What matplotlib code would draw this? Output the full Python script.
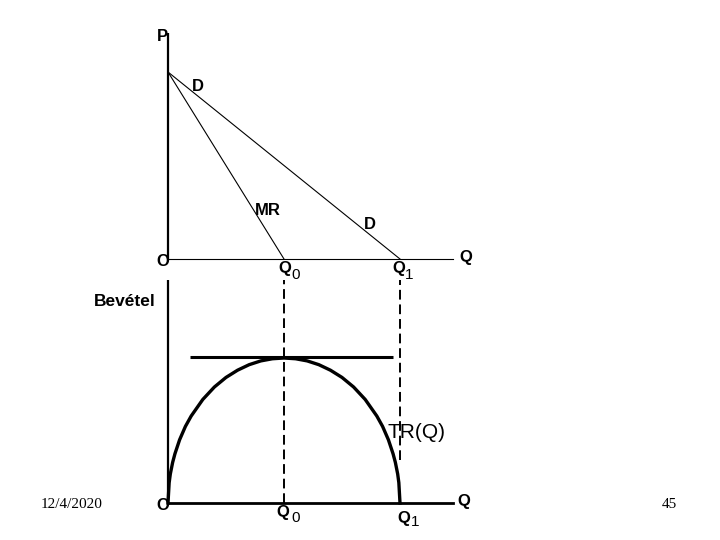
import matplotlib
matplotlib.use("Agg")
import matplotlib.pyplot as plt

# demand model: P = 10 - Q, MR = 10 - 2Q
p_max = 10.0
q0 = 5.0    # MR = 0
q1 = 10.0   # D = 0
demand_q = [0.0, q1]
demand_p = [p_max, 0.0]
mr_q = [0.0, q0]
mr_p = [p_max, 0.0]

# total revenue curve, as drawn on the slide
tr_q = [0.0, 0.05, 0.1, 0.2, 0.3, 0.5, 0.75, 1.0, 1.5, 2.0, 2.5, 3.0, 3.5, 4.0, 4.5,
        5.0, 5.5, 6.0, 6.5, 7.0, 7.5, 8.0, 8.5, 9.0, 9.25, 9.5, 9.7, 9.8, 9.9, 9.95, 10.0]
tr_v = [0.0, 3.5, 5.0, 7.0, 8.5, 10.9, 13.2, 15.0, 17.85, 20.0, 21.65, 22.9, 23.85, 24.5, 24.87,
        25.0, 24.87, 24.5, 23.85, 22.9, 21.65, 20.0, 17.85, 15.0, 13.2, 10.9, 8.5, 7.0, 5.0, 3.5, 0.0]
tr_max = 25.0
tangent_q = [0.95, 9.7]

W, H = 720, 540
fig = plt.figure(figsize=(7.2, 5.4), dpi=100)

# pixel scale: 23.2 px per Q unit, 18.7 px per P unit, 5.8 px per TR unit
xmax = 13.5
top = fig.add_axes([168 / W, (540 - 259) / H, xmax * 23.2 / W, 12.5 * 18.7 / H])
top.set_xlim(0, xmax)
top.set_ylim(0, 12.5)
top.axis("off")

bot = fig.add_axes([168 / W, (540 - 503) / H, xmax * 23.2 / W, 40 * 5.8 / H])
bot.set_xlim(0, xmax)
bot.set_ylim(0, 40)
bot.axis("off")

bold = dict(family="Liberation Sans", weight="bold", fontsize=12, color="black")
sub = dict(family="Liberation Sans", fontsize=11, color="black")

# ---- upper panel: D and MR
top.plot([0, 0], [0, 12.1], color="black", lw=1.6, solid_capstyle="butt", clip_on=False)
top.plot([0, 12.3], [0, 0], color="black", lw=0.8, clip_on=False)
top.plot(demand_q, demand_p, color="black", lw=0.8, clip_on=False)
top.plot(mr_q, mr_p, color="black", lw=0.8, clip_on=False)

top.text(-0.26, 11.9, "P", ha="center", va="center", **bold)
top.text(1.3, 9.2, "D", ha="center", va="center", **bold)
top.text(4.3, 2.6, "MR", ha="center", va="center", **bold)
top.text(8.7, 1.85, "D", ha="center", va="center", **bold)
top.text(-0.22, -0.15, "O", ha="center", va="center", **bold)
top.text(q0 + 0.05, -0.5, "Q", ha="center", va="center", **bold)
top.text(q0 + 0.5, -0.85, "0", ha="center", va="center", **sub)
top.text(q1 - 0.05, -0.5, "Q", ha="center", va="center", **bold)
top.text(q1 + 0.4, -0.85, "1", ha="center", va="center", **sub)
top.text(12.85, 0.1, "Q", ha="center", va="center", **bold)

# ---- lower panel: total revenue
bot.plot([0, 0], [0, 38.5], color="black", lw=1.6, solid_capstyle="butt", clip_on=False)
bot.plot([0, 12.3], [0, 0], color="black", lw=2.0, clip_on=False)
bot.plot(tr_q, tr_v, color="black", lw=2.4, clip_on=False)
bot.plot(tangent_q, [tr_max + 0.2, tr_max + 0.2], color="black", lw=2.2,
         solid_capstyle="butt", clip_on=False)
bot.plot([q0, q0], [0, 38.5], color="black", lw=1.4, dashes=(5, 2.5), clip_on=False)
bot.plot([q1, q1], [7.5, 38.5], color="black", lw=1.4, dashes=(5, 2.5), clip_on=False)

bot.text(-1.85, 34.8, "Bevétel", ha="center", va="center",
         family="Liberation Sans", weight="bold", fontsize=12.5, color="black")
bot.text(10.7, 12.2, "TR(Q)", ha="center", va="center",
         family="Liberation Sans", fontsize=15, color="black")
bot.text(-0.22, -0.5, "O", ha="center", va="center", **bold)
bot.text(q0 - 0.05, -1.7, "Q", ha="center", va="center", **bold)
bot.text(q0 + 0.5, -2.5, "0", ha="center", va="center", **sub)
bot.text(q1 + 0.15, -2.6, "Q", ha="center", va="center", **bold)
bot.text(q1 + 0.65, -3.3, "1", ha="center", va="center", **sub)
bot.text(12.75, 0.2, "Q", ha="center", va="center", **bold)

# slide footer
fig.text(72 / W, 1 - 504 / H, "12/4/2020", ha="center", va="center",
         family="Liberation Serif", fontsize=11, color="black")
fig.text(669 / W, 1 - 504 / H, "45", ha="center", va="center",
         family="Liberation Serif", fontsize=11, color="black")

fig.savefig("out.png", dpi=100, facecolor="white")
